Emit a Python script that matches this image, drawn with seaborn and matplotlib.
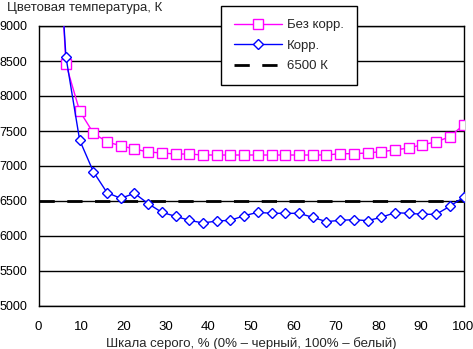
import numpy as np
import pandas as pd
import matplotlib
matplotlib.use("Agg")
import matplotlib.pyplot as plt
import seaborn as sns

# Data (grey level steps k = 1..31, x = k*100/31)
steps = list(range(1, 32))
no_corr = [12000, 8457, 7786, 7471, 7343, 7290, 7243, 7200, 7186, 7171, 7171,
           7157, 7157, 7157, 7157, 7157, 7157, 7157, 7157, 7157, 7157, 7176,
           7176, 7186, 7205, 7229, 7257, 7305, 7343, 7419, 7586]
corr = [11700, 8562, 7371, 6919, 6619, 6538, 6610, 6462, 6338, 6281, 6224,
        6186, 6214, 6224, 6290, 6338, 6324, 6324, 6324, 6267, 6205, 6224,
        6233, 6219, 6267, 6333, 6324, 6310, 6310, 6424, 6552]
ref_temp = 6500
series_names = ["Без корр.", "Корр.", "6500 К"]
title_text = "Цветовая температура, К"
xlabel_text = "Шкала серого, % (0% – черный, 100% – белый)"
xticks = list(range(0, 101, 10))
yticks = list(range(5000, 9001, 500))

x_vals = [k * 100 / 31 for k in steps]

sns.set_style("white")
plt.rcParams['font.family'] = ['Liberation Sans', 'DejaVu Sans']
FS = 9.5
TFS = 9
plt.rcParams['font.size'] = FS

fig = plt.figure(figsize=(4.73, 3.49), dpi=100)
W, H = 473, 349
ax = fig.add_axes([38.5 / W, 1 - 306 / H, (463.5 - 38.5) / W, (306 - 26) / H])

df1 = pd.DataFrame({"x": x_vals, "y": no_corr})
df2 = pd.DataFrame({"x": x_vals, "y": corr})

sns.lineplot(data=df1, x="x", y="y", ax=ax, color="#FF00FF", lw=1,
             marker="s", markersize=7, markerfacecolor="white",
             markeredgecolor="#FF00FF", markeredgewidth=1,
             label=series_names[0], zorder=4)
sns.lineplot(data=df2, x="x", y="y", ax=ax, color="#0000FF", lw=1,
             marker="D", markersize=5.5, markerfacecolor="white",
             markeredgecolor="#0000FF", markeredgewidth=1,
             label=series_names[1], zorder=5)
ax.axhline(ref_temp, color="black", lw=2, dashes=(5.5, 4.5),
           label=series_names[2], zorder=3)

ax.set_xlim(0, 100)
ax.set_ylim(5000, 9000)
ax.set_xticks(xticks)
ax.set_yticks(yticks)
ax.yaxis.grid(True, color="black", lw=1)
ax.xaxis.grid(False)
ax.set_axisbelow(True)
for s in ax.spines.values():
    s.set_color("black")
    s.set_linewidth(1)
ax.tick_params(axis="both", direction="out", length=3, width=1, color="black",
               labelsize=TFS, labelcolor="black")
ax.tick_params(axis="x", pad=8, labelsize=FS)
ax.tick_params(axis="y", pad=5)
ax.set_xlabel(xlabel_text, fontsize=FS, labelpad=3)
ax.set_ylabel("")

fig.text(7 / W, 1 - 8 / H, title_text, fontsize=FS, ha="left", va="center")

leg = ax.legend(loc="upper left", bbox_to_anchor=(221 / W, 1 - 6 / H),
                bbox_transform=fig.transFigure, frameon=True, fancybox=False,
                edgecolor="black", framealpha=1, handlelength=3.6,
                handletextpad=0.4, labelspacing=0.62, borderpad=1.0,
                borderaxespad=0, fontsize=FS)
leg.get_frame().set_linewidth(1)
leg.set_zorder(10)

fig.savefig("out.png", dpi=100)
